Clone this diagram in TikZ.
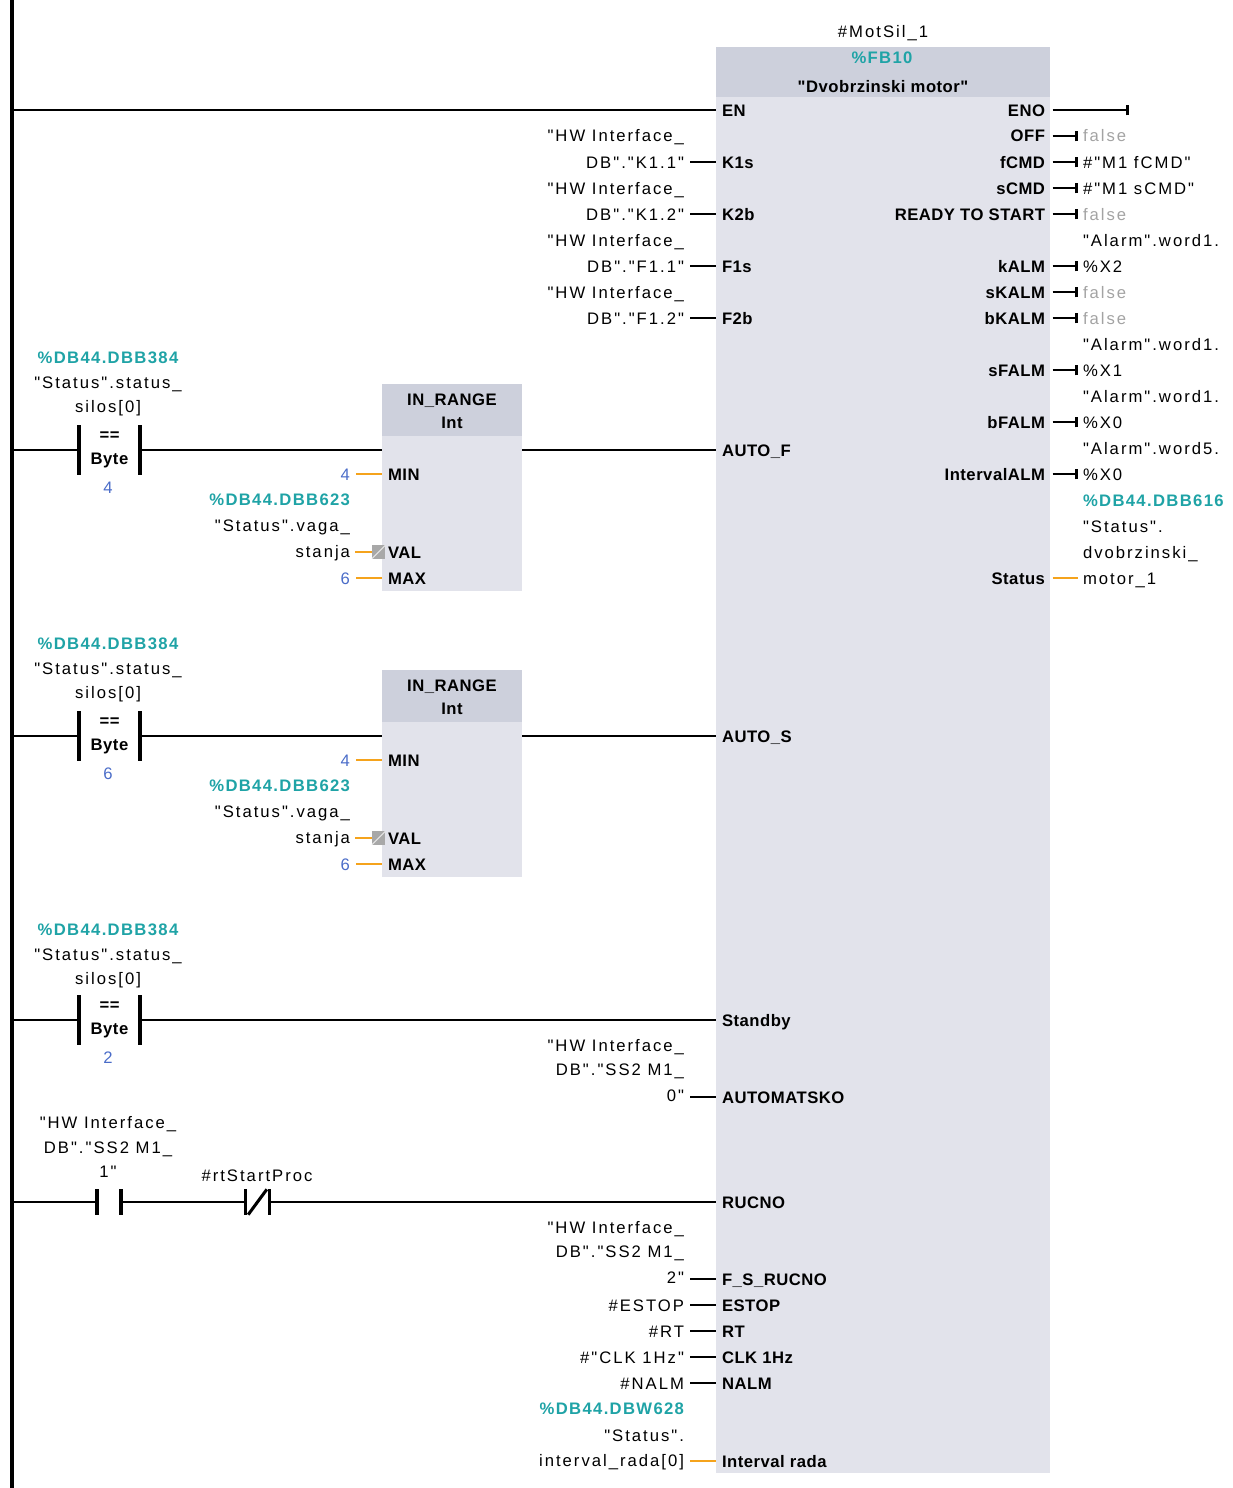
\documentclass[tikz,border=0pt]{standalone}
\usepackage{fontspec}
\usetikzlibrary{fit}
\newfontfamily\pinfont[LetterSpace=3]{Liberation Sans}
\newfontfamily\opfont[LetterSpace=12]{Liberation Sans}
\newfontfamily\addrfont[LetterSpace=8]{Liberation Sans}
\newcommand\fsz{\fontsize{12.5}{15}\selectfont}
\newcommand\pinf{\pinfont\fsz\bfseries}
\newcommand\opf{\opfont\fsz}
\newcommand\addrf{\addrfont\fsz\bfseries}
\definecolor{tealc}{HTML}{1FA3A6}
\definecolor{numc}{HTML}{4A6CC8}
\definecolor{orc}{HTML}{F5A31C}
\definecolor{falsec}{HTML}{A3A3A3}
\definecolor{hdrc}{HTML}{CDD0DC}
\definecolor{bodyc}{HTML}{E2E3EB}
\definecolor{sqc}{HTML}{A8A8A8}
\begin{document}
\begin{tikzpicture}[x=0.75pt,y=-0.75pt,
  every node/.style={inner sep=0pt,outer sep=0pt},
  rail/.style={line width=2.4pt},
  wire/.style={line width=2.2pt},
  owire/.style={line width=2.2pt,orc},
  bar/.style={line width=2.3pt},
  tick/.style={line width=2.3pt},
  pinL/.style={anchor=base west,font=\pinf},
  pinR/.style={anchor=base east,font=\pinf},
  opR/.style={anchor=base east,font=\opf},
  opL/.style={anchor=base west,font=\opf},
  opC/.style={anchor=base,font=\opf},
  addr/.style={font=\addrf,text=tealc},
  numtxt/.style={anchor=base,font=\opf,text=numc},
  falsetxt/.style={anchor=base west,font=\opf,text=falsec},
  contact/.style={minimum width=45.75pt,minimum height=37.5pt,align=center,font=\pinfont\fontsize{12.5}{18.4}\selectfont\bfseries},
  smallcontact/.style={minimum width=18pt,minimum height=19pt},
  blockbody/.style={fill=bodyc},
  blockhead/.style={fill=hdrc}]
\useasboundingbox (0,0) rectangle (1232,1488);

% power rail
\coordinate (railT) at (12,0);
\coordinate (railB) at (12,1488);
\draw[rail] (railT) -- (railB);

% ---------------- FB block ----------------
\node[fit={(716,47)(1050,1473)},blockbody] (blk) {};
\fill[hdrc] (716,47) rectangle (1050,97);
\node[opC] (inst) at (883,38) {\#MotSil\_1};
\node[addr,anchor=base] (fbno) at (882,64) {\%FB10};
\node[anchor=base,font=\pinf] (fbname) at (883,93) {"Dvobrzinski motor"};

% left pins
\foreach \yy/\tt/\nn in {110/EN/EN,162/K1s/K1s,214/K2b/K2b,266/F1s/F1s,318/F2b/F2b,
  450/AUTO\_F/AF,736/AUTO\_S/AS,1020/Standby/SB,1097/AUTOMATSKO/AM,1202/RUCNO/RU,
  1279/F\_S\_RUCNO/FSR,1305/ESTOP/ES,1331/RT/RT,1357/CLK 1Hz/CLK,1383/NALM/NA,1461/Interval rada/IR}{
  \node[pinL] (p\nn) at (722,\yy+6) {\tt};
  \coordinate (l\nn) at (716,\yy);
}
% right pins
\foreach \yy/\tt/\nn in {110/ENO/ENO,136/OFF/OFF,162/fCMD/fCMD,188/sCMD/sCMD,214/READY TO START/RTS,
  266/kALM/kALM,292/sKALM/sKALM,318/bKALM/bKALM,370/sFALM/sFALM,422/bFALM/bFALM,
  474/IntervalALM/IALM,578/Status/Stat}{
  \node[pinR] (q\nn) at (1045,\yy+6) {\tt};
  \coordinate (r\nn) at (1050,\yy);
}

% outputs
\draw[wire] ([xshift=2pt]rENO) -- ([xshift=58pt]rENO) coordinate (tENO);
\draw[tick] ([yshift=-4pt]tENO) -- ([yshift=4pt]tENO);
\foreach \nn in {OFF,fCMD,sCMD,RTS,kALM,sKALM,bKALM,sFALM,bFALM,IALM}{
  \draw[wire] ([xshift=2pt]r\nn) -- ([xshift=20pt]r\nn) coordinate (t\nn);
  \draw[tick] ([yshift=-4pt]t\nn) -- ([yshift=4pt]t\nn);
}
\node[falsetxt] (vOFF) at (1083,142) {false};
\node[opL] (vfCMD) at (1083,168) {\#"M1 fCMD"};
\node[opL] (vsCMD) at (1083,194) {\#"M1 sCMD"};
\node[falsetxt] (vRTS) at (1083,220) {false};
\node[opL] (vkALMa) at (1083,246) {"Alarm".word1.};
\node[opL] (vkALM) at (1083,272) {\%X2};
\node[falsetxt] (vsKALM) at (1083,298) {false};
\node[falsetxt] (vbKALM) at (1083,324) {false};
\node[opL] (vsFALMa) at (1083,350) {"Alarm".word1.};
\node[opL] (vsFALM) at (1083,376) {\%X1};
\node[opL] (vbFALMa) at (1083,402) {"Alarm".word1.};
\node[opL] (vbFALM) at (1083,428) {\%X0};
\node[opL] (vIALMa) at (1083,454) {"Alarm".word5.};
\node[opL] (vIALM) at (1083,480) {\%X0};
\node[addr,anchor=base west] (vStata) at (1083,506) {\%DB44.DBB616};
\node[opL] (vStatb) at (1083,532) {"Status".};
\node[opL] (vStatc) at (1083,558) {dvobrzinski\_};
\node[opL] (vStat) at (1083,584) {motor\_1};
\draw[owire] ([xshift=2pt]rStat) -- ([xshift=21pt]rStat);

% EN
\draw[wire] (railT |- lEN) -- (lEN);

% left inputs of the FB
\foreach \ya/\yy/\nn/\ss in {136/162/K1s/K1.1,188/214/K2b/K1.2,240/266/F1s/F1.1,292/318/F2b/F1.2}{
  \node[opR] (i\nn-a) at (684,\ya+6) {"HW Interface\_};
  \node[opR] (i\nn) at (684,\yy+6) {DB"."\ss"};
  \draw[wire] ([xshift=4.5pt]i\nn.east |- l\nn) -- (l\nn);
}
\node[opR] (iAM-a) at (684,1051) {"HW Interface\_};
\node[opR] (iAM-b) at (684,1075) {DB"."SS2 M1\_};
\node[opR] (iAM) at (684,1101) {0"};
\draw[wire] ([xshift=4.5pt]iAM.east |- lAM) -- (lAM);
\node[opR] (iFSR-a) at (684,1233) {"HW Interface\_};
\node[opR] (iFSR-b) at (684,1257) {DB"."SS2 M1\_};
\node[opR] (iFSR) at (684,1283) {2"};
\draw[wire] ([xshift=4.5pt]iFSR.east |- lFSR) -- (lFSR);
\node[opR] (iES) at (684,1311) {\#ESTOP};
\draw[wire] ([xshift=4.5pt]iES.east |- lES) -- (lES);
\node[opR] (iRT) at (684,1337) {\#RT};
\draw[wire] ([xshift=4.5pt]iRT.east |- lRT) -- (lRT);
\node[opR] (iCLK) at (684,1363) {\#"CLK 1Hz"};
\draw[wire] ([xshift=4.5pt]iCLK.east |- lCLK) -- (lCLK);
\node[opR] (iNA) at (684,1389) {\#NALM};
\draw[wire] ([xshift=4.5pt]iNA.east |- lNA) -- (lNA);
\node[addr,anchor=base east] (iIR-a) at (684,1414) {\%DB44.DBW628};
\node[opR] (iIR-b) at (684,1441) {"Status".};
\node[opR] (iIR) at (684,1466) {interval\_rada[0]};
\draw[owire] ([xshift=4.5pt]iIR.east |- lIR) -- (lIR);

% ---------------- networks with compare + IN_RANGE ----------------
\foreach \off/\nn/\val/\pn in {0/1/4/AF,286/2/6/AS}{
  \node[contact] (c\nn) at (109.5,450+\off) {==\\Byte};
  \draw[bar] (c\nn.north west) -- (c\nn.south west);
  \draw[bar] (c\nn.north east) -- (c\nn.south east);
  \node[numtxt] (cv\nn) at (108,493+\off) {\val};
  \node[addr,anchor=base] (ca\nn) at (108,363+\off) {\%DB44.DBB384};
  \node[opC] (cb\nn) at (108,388+\off) {"Status".status\_};
  \node[opC] (cc\nn) at (108,412+\off) {silos[0]};
  % IN_RANGE box
  \node[fit={(382,384+\off)(522,591+\off)},blockbody] (ir\nn) {};
  \fill[hdrc] (382,384+\off) rectangle (522,436+\off);
  \node[anchor=base,font=\pinf] (irt\nn) at (452,405+\off) {IN\_RANGE};
  \node[anchor=base,font=\pinf] (iru\nn) at (452,428+\off) {Int};
  \node[pinL] (irpmin\nn) at (388,480+\off) {MIN};
  \node[pinL] (irpval\nn) at (388,558+\off) {VAL};
  \node[pinL] (irpmax\nn) at (388,584+\off) {MAX};
  \coordinate (irmin\nn) at (382,474+\off);
  \coordinate (irval\nn) at (372,552+\off);
  \coordinate (irmax\nn) at (382,578+\off);
  % inputs
  \node[numtxt,anchor=base east] (mn\nn) at (350,480+\off) {4};
  \draw[owire] ([xshift=4.5pt]mn\nn.east |- irmin\nn) -- (irmin\nn);
  \node[addr,anchor=base east] (vd\nn) at (350,505+\off) {\%DB44.DBB623};
  \node[opR] (ve\nn) at (350,531+\off) {"Status".vaga\_};
  \node[opR] (vs\nn) at (350,557+\off) {stanja};
  \draw[owire] ([xshift=4pt]vs\nn.east |- irval\nn) -- (irval\nn);
  \node[fill=sqc,minimum size=10pt,anchor=west] (sq\nn) at (irval\nn) {};
  \draw[white!80!gray,line width=0.8pt] (sq\nn.south west) -- (sq\nn.north east);
  \node[numtxt,anchor=base east] (mx\nn) at (350,584+\off) {6};
  \draw[owire] ([xshift=4.5pt]mx\nn.east |- irmax\nn) -- (irmax\nn);
  % wiring
  \draw[wire] (railT |- c\nn) -- (c\nn.west);
  \draw[wire] (c\nn.east) -- (ir\nn.west |- c\nn);
  \draw[wire] (ir\nn.east |- c\nn) -- (l\pn);
}

% ---------------- Standby network ----------------
\node[contact] (c3) at (109.5,1020) {==\\Byte};
\draw[bar] (c3.north west) -- (c3.south west);
\draw[bar] (c3.north east) -- (c3.south east);
\node[numtxt] (cv3) at (108,1063) {2};
\node[addr,anchor=base] (ca3) at (108,935) {\%DB44.DBB384};
\node[opC] (cb3) at (108,960) {"Status".status\_};
\node[opC] (cc3) at (108,984) {silos[0]};
\draw[wire] (railT |- c3) -- (c3.west);
\draw[wire] (c3.east) -- (lSB);

% ---------------- RUCNO network ----------------
\node[smallcontact] (no1) at (109,1202) {};
\draw[bar] (no1.north west) -- (no1.south west);
\draw[bar] (no1.north east) -- (no1.south east);
\node[opC] (noa) at (108,1128) {"HW Interface\_};
\node[opC] (nob) at (108,1153) {DB"."SS2 M1\_};
\node[opC] (noc) at (108,1177) {1"};
\node[smallcontact] (nc1) at (257.5,1202) {};
\draw[bar] (nc1.north west) -- (nc1.south west);
\draw[bar] (nc1.north east) -- (nc1.south east);
\draw[bar] ([xshift=2pt]nc1.south west) -- ([xshift=-2pt]nc1.north east);
\node[opC] (nca) at (257,1181) {\#rtStartProc};
\draw[wire] (railT |- no1) -- (no1.west);
\draw[wire] (no1.east) -- (nc1.west);
\draw[wire] (nc1.east) -- (lRU);
\end{tikzpicture}
\end{document}
